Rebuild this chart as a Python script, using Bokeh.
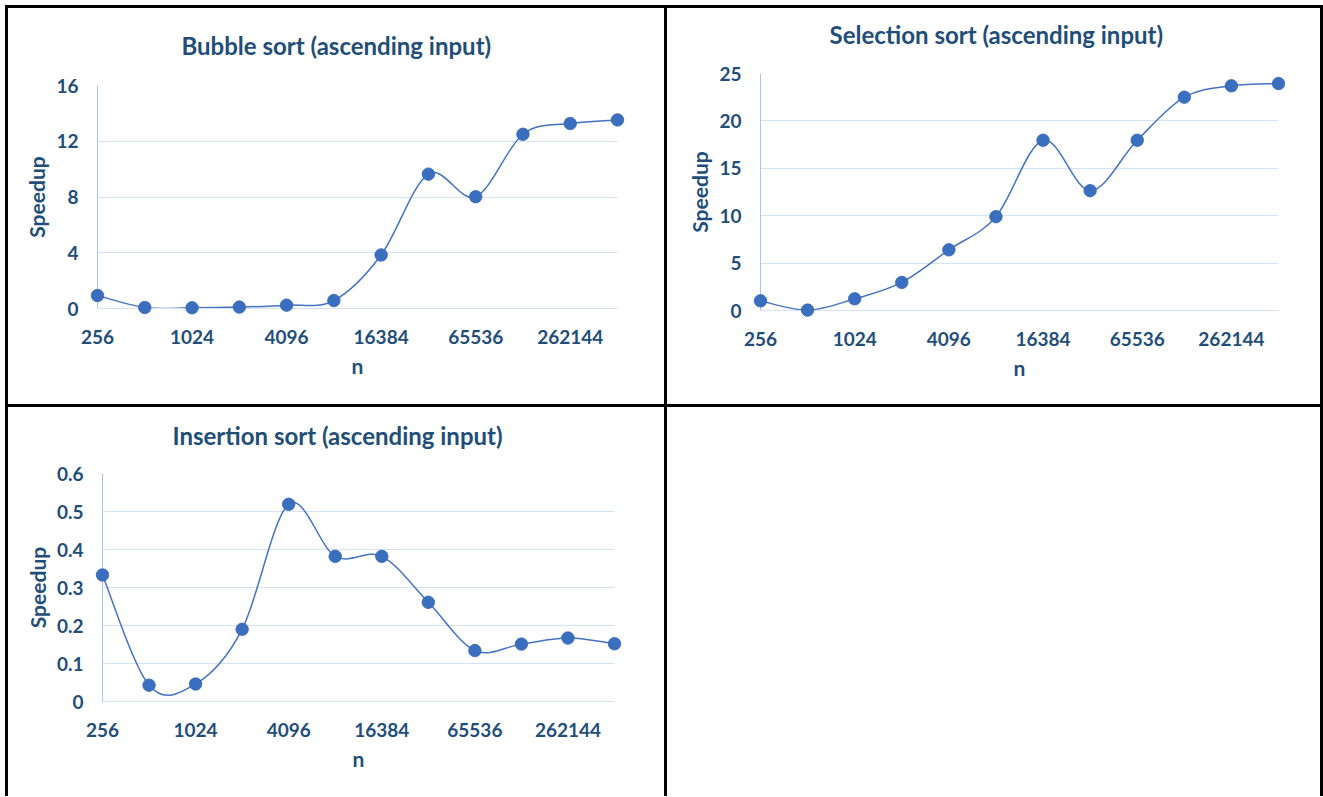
import numpy as np
from bokeh.plotting import figure
from bokeh.models import Range1d, FixedTicker, PrintfTickFormatter, Spacer, Title
from bokeh.layouts import column, row
from bokeh.embed import file_html
from bokeh.resources import INLINE

# ---------------- data ----------------
n_labels = ["256", "512", "1024", "2048", "4096", "8192", "16384",
            "32768", "65536", "131072", "262144", "524288"]
x_tick_labels = ["256", "1024", "4096", "16384", "65536", "262144"]

bubble = [0.93, 0.07, 0.05, 0.1, 0.24, 0.57, 3.84, 9.64, 8.02, 12.5, 13.27, 13.53]
selection = [1.02, 0.04, 1.23, 2.96, 6.4, 9.9, 17.96, 12.64, 17.96, 22.5, 23.7, 23.94]
insertion = [0.333, 0.043, 0.046, 0.19, 0.519, 0.382, 0.382, 0.261, 0.134, 0.151, 0.167, 0.152]

bubble_yticks = [0, 4, 8, 12, 16]
selection_yticks = [0, 5, 10, 15, 20, 25]
insertion_yticks = [0, 0.1, 0.2, 0.3, 0.4, 0.5, 0.6]

titles = ["Bubble sort (ascending input)",
          "Selection sort (ascending input)",
          "Insertion sort (ascending input)"]

# ---------------- style ----------------
FONT = "Lato"
TEXT = "#1F4E79"
LINE = "#4472C4"
MARK = "#3A6EBE"
GRID = "#D3E2F5"
AXIS = "#A9C6EC"


def make_chart(ys, yticks, title, w, h, ml, mr, mt, mb, title_offset, title_gap, shadow):
    p = figure(width=w, height=h, output_backend="svg", toolbar_location=None,
               title=None, min_border_left=ml, min_border_right=mr,
               min_border_top=mt, min_border_bottom=mb)
    p.styles = {"box-shadow": shadow}
    n = len(ys)
    p.x_range = Range1d(0, n - 1)
    p.y_range = Range1d(yticks[0], yticks[-1])
    p.outline_line_color = None
    p.background_fill_color = "white"
    p.border_fill_color = "white"

    # title: an invisible spacer title next to the frame, the real title above it
    p.add_layout(Title(text=" ", text_font_size="1px", standoff=title_gap), "above")
    p.add_layout(Title(text=title, align="left", offset=title_offset,
                       text_font=FONT, text_font_style="bold",
                       text_font_size="24px", text_color=TEXT, standoff=0), "above")

    # grid
    p.xgrid.grid_line_color = None
    p.ygrid.grid_line_color = GRID
    p.ygrid.grid_line_width = 1

    # axes
    p.xaxis.ticker = FixedTicker(ticks=[n_labels.index(t) for t in x_tick_labels])
    p.xaxis.major_label_overrides = {n_labels.index(t): t for t in x_tick_labels}
    p.yaxis.ticker = FixedTicker(ticks=yticks)
    p.yaxis.formatter = PrintfTickFormatter(format="%g")
    for ax in (p.xaxis, p.yaxis):
        ax.major_tick_line_color = None
        ax.minor_tick_line_color = None
        ax.major_label_text_font = FONT
        ax.major_label_text_font_style = "bold"
        ax.major_label_text_font_size = "19px"
        ax.major_label_text_color = TEXT
        ax.axis_label_text_font = FONT
        ax.axis_label_text_font_style = "bold"
        ax.axis_label_text_font_size = "21px"
        ax.axis_label_text_color = TEXT
    p.xaxis.major_label_standoff = 15
    p.yaxis.major_label_standoff = 13
    p.xaxis.axis_line_color = GRID
    p.yaxis.axis_line_color = AXIS
    p.xaxis.axis_label = "n"
    p.xaxis.axis_label_standoff = 6
    p.yaxis.axis_label = "Speedup"
    p.yaxis.axis_label_standoff = 4

    # smooth line (Catmull-Rom -> cubic Bezier, computed from the data)
    x = np.arange(n, dtype=float)
    y = np.asarray(ys, dtype=float)
    xp = np.concatenate([[x[0]], x, [x[-1]]])
    yp = np.concatenate([[y[0]], y, [y[-1]]])
    i = np.arange(n - 1)
    x0, y0 = xp[i + 1], yp[i + 1]
    x1, y1 = xp[i + 2], yp[i + 2]
    cx0 = x0 + (xp[i + 2] - xp[i]) / 6.0
    cy0 = y0 + (yp[i + 2] - yp[i]) / 6.0
    cx1 = x1 - (xp[i + 3] - xp[i + 1]) / 6.0
    cy1 = y1 - (yp[i + 3] - yp[i + 1]) / 6.0
    p.bezier(x0=x0, y0=y0, x1=x1, y1=y1, cx0=cx0, cy0=cy0, cx1=cx1, cy1=cy1,
             line_color=LINE, line_width=1.5)

    r = p.scatter(x, y, size=12.5, fill_color=MARK, line_color="#3566B0", line_width=0.8)
    r.level = "overlay"
    return p


p1 = make_chart(bubble, bubble_yticks, titles[0], 656, 396, 89, 47, 77, 96, 84, 23,
                "0 0 0 3px black")
p2 = make_chart(selection, selection_yticks, titles[1], 653, 396, 93, 42, 65, 94, 69, 22,
                "0 0 0 3px black")
p3 = make_chart(insertion, insertion_yticks, titles[2], 656, 389, 94, 50, 66, 95, 70, 21,
                "-3px 0 0 0 black, 3px 0 0 0 black")
blank = Spacer(width=653, height=389, styles={"box-shadow": "3px 0 0 0 black"})

# each chart wrapped in its own column so the frames are not aligned across the row
layout = column(row(column(p1), column(p2), spacing=3),
                row(column(p3), blank, spacing=3), spacing=3)
layout.styles = {"margin": "8px 0 0 8px"}

open("out.html", "w").write(file_html(layout, INLINE))
